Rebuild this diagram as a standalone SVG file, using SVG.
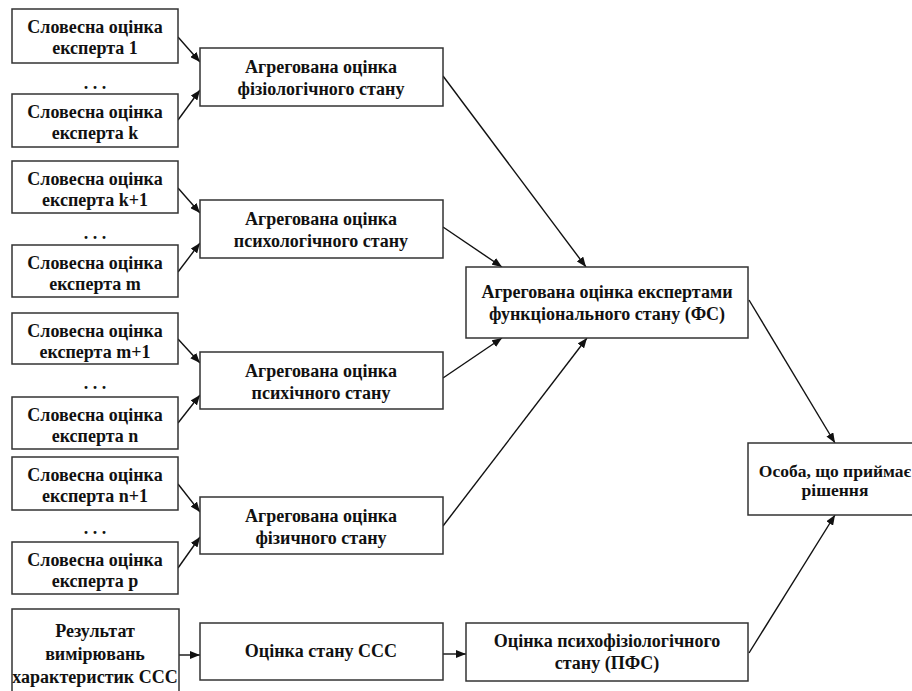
<svg xmlns="http://www.w3.org/2000/svg" width="912" height="691" viewBox="0 0 912 691">
<style>
.box{fill:#fff;stroke:#333;stroke-width:1.5}
.t{font-family:"Liberation Serif","Times New Roman",serif;font-weight:bold;font-size:18px;fill:#111;text-anchor:middle}
.c{fill:none;stroke:#111;stroke-width:1.4;marker-end:url(#ah)}
</style>
<defs>
<marker id="ah" markerUnits="userSpaceOnUse" markerWidth="10" markerHeight="8" refX="10" refY="4" orient="auto">
<path d="M0,0 L10,4 L0,8 z" fill="#111"/>
</marker>
</defs>
<rect width="912" height="691" fill="#fff"/>
<g id="connectors">
<line class="c" x1="178" y1="37" x2="200" y2="62"/>
<line class="c" x1="178" y1="120" x2="200" y2="90"/>
<line class="c" x1="178" y1="188" x2="200" y2="213"/>
<line class="c" x1="178" y1="272" x2="200" y2="243"/>
<line class="c" x1="178" y1="339" x2="200" y2="363"/>
<line class="c" x1="178" y1="423" x2="200" y2="395"/>
<line class="c" x1="178" y1="484" x2="200" y2="512"/>
<line class="c" x1="178" y1="568" x2="200" y2="537"/>
<line class="c" x1="443" y1="76" x2="586" y2="267"/>
<line class="c" x1="443" y1="227" x2="502" y2="267"/>
<line class="c" x1="443" y1="378" x2="502" y2="338"/>
<line class="c" x1="443" y1="526" x2="587" y2="338"/>
<line class="c" x1="749" y1="300" x2="835" y2="443"/>
<line class="c" x1="749" y1="653" x2="835" y2="515"/>
<line class="c" x1="179" y1="655" x2="200" y2="655"/>
<line class="c" x1="443" y1="654" x2="466" y2="654"/>
</g>
<g id="e1"><rect class="box" x="12" y="9" width="166" height="54"/><text class="t" x="95" y="33">Словесна оцінка</text><text class="t" x="95" y="54">експерта 1</text></g>
<text class="t" x="95" y="89">. . .</text>
<g id="ek"><rect class="box" x="12" y="94" width="166" height="53"/><text class="t" x="95" y="118">Словесна оцінка</text><text class="t" x="95" y="139">експерта k</text></g>
<g id="ek1"><rect class="box" x="12" y="161" width="166" height="52"/><text class="t" x="95" y="185">Словесна оцінка</text><text class="t" x="95" y="206">експерта k+1</text></g>
<text class="t" x="95" y="239">. . .</text>
<g id="em"><rect class="box" x="12" y="245" width="166" height="52"/><text class="t" x="95" y="269">Словесна оцінка</text><text class="t" x="95" y="290">експерта m</text></g>
<g id="em1"><rect class="box" x="12" y="313" width="166" height="51"/><text class="t" x="95" y="337">Словесна оцінка</text><text class="t" x="95" y="358">експерта m+1</text></g>
<text class="t" x="95" y="389">. . .</text>
<g id="en"><rect class="box" x="12" y="397" width="166" height="52"/><text class="t" x="95" y="421">Словесна оцінка</text><text class="t" x="95" y="442">експерта n</text></g>
<g id="en1"><rect class="box" x="12" y="457" width="166" height="53"/><text class="t" x="95" y="481">Словесна оцінка</text><text class="t" x="95" y="502">експерта n+1</text></g>
<text class="t" x="95" y="534">. . .</text>
<g id="ep"><rect class="box" x="12" y="542" width="166" height="52"/><text class="t" x="95" y="566">Словесна оцінка</text><text class="t" x="95" y="587">експерта p</text></g>
<g id="res"><rect class="box" x="12" y="609" width="167" height="90"/><text class="t" x="95" y="637">Результат</text><text class="t" x="95" y="660">вимірювань</text><text class="t" x="95" y="683">характеристик ССС</text></g>
<g id="a1"><rect class="box" x="200" y="48" width="243" height="58"/><text class="t" x="321" y="73">Агрегована оцінка</text><text class="t" x="321" y="95">фізіологічного стану</text></g>
<g id="a2"><rect class="box" x="200" y="200" width="243" height="58"/><text class="t" x="321" y="225">Агрегована оцінка</text><text class="t" x="321" y="247">психологічного стану</text></g>
<g id="a3"><rect class="box" x="200" y="352" width="243" height="57"/><text class="t" x="321" y="377">Агрегована оцінка</text><text class="t" x="321" y="399">психічного стану</text></g>
<g id="a4"><rect class="box" x="200" y="497" width="243" height="57"/><text class="t" x="321" y="522">Агрегована оцінка</text><text class="t" x="321" y="544">фізичного стану</text></g>
<g id="sss"><rect class="box" x="200" y="623" width="243" height="57"/><text class="t" x="321" y="657">Оцінка стану ССС</text></g>
<g id="fs"><rect class="box" x="466" y="267" width="282" height="71"/><text class="t" x="607" y="298">Агрегована оцінка експертами</text><text class="t" x="607" y="320">функціонального стану (ФС)</text></g>
<g id="pfs"><rect class="box" x="466" y="623" width="282" height="58"/><text class="t" x="607" y="647">Оцінка психофізіологічного</text><text class="t" x="607" y="669">стану (ПФС)</text></g>
<g id="dm"><rect class="box" x="748" y="443" width="180" height="72"/><text class="t" x="835" y="477" style="font-size:17.5px">Особа, що приймає</text><text class="t" x="835" y="496" style="font-size:17.5px">рішення</text></g>
</svg>
